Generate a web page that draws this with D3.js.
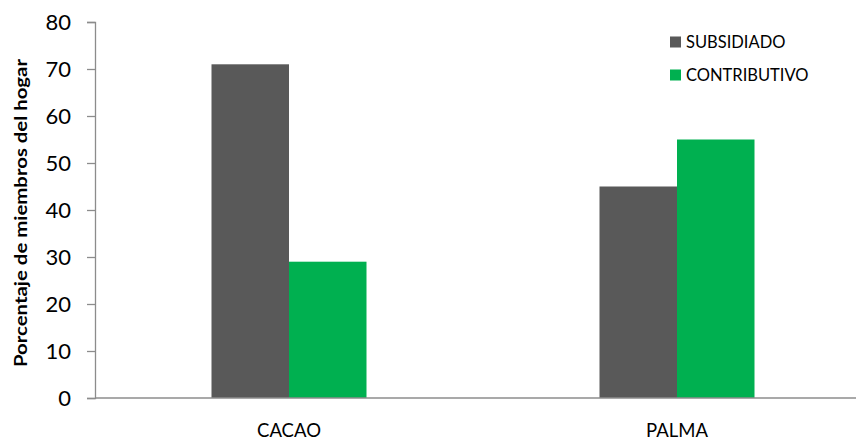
<!DOCTYPE html>
<html><head><meta charset="utf-8">
<script src="https://cdn.jsdelivr.net/npm/d3@7/dist/d3.min.js"></script>
<style>body{margin:0;background:#fff}</style>
</head><body>
<svg id="c" width="859" height="440"></svg>
<script>
const categories = ["CACAO", "PALMA"];
const seriesNames = ["SUBSIDIADO", "CONTRIBUTIVO"];
const subsidiado = [71, 45];
const contributivo = [29, 55];
const yTicks = [0, 10, 20, 30, 40, 50, 60, 70, 80];
const colors = ["#595959", "#00b050"];

const svg = d3.select("#c");
const font = "Lato, 'Open Sans', sans-serif";
const x0 = 95, yTop = 22, yBot = 398;
const x = d3.scaleBand().domain(categories).range([x0, 871]);
const xs = d3.scaleBand().domain(seriesNames).range([0, 155]);
const y = d3.scaleLinear().domain([0, 80]).range([yBot, yTop]);
const values = [subsidiado, contributivo];

// bars
seriesNames.forEach((s, si) => {
  svg.append("g").selectAll("rect").data(categories).join("rect")
    .attr("x", c => x(c) + x.bandwidth() / 2 - 77.5 + xs(s))
    .attr("y", (c, i) => y(values[si][i]))
    .attr("width", xs.bandwidth())
    .attr("height", (c, i) => yBot - y(values[si][i]))
    .attr("fill", colors[si]);
});

// y axis
const ya = svg.append("g").attr("transform", `translate(${x0},0)`)
  .call(d3.axisLeft(y).tickValues(yTicks).tickSize(8).tickPadding(16));
ya.select(".domain").attr("stroke", "#8c8c8c").attr("stroke-width", 1.3);
ya.selectAll(".tick line").attr("stroke", "#8c8c8c").attr("stroke-width", 1.3);
ya.selectAll(".tick text").attr("font-family", font).attr("font-size", 22).attr("fill", "#000");

// x axis baseline
svg.append("line").attr("x1", x0).attr("x2", 856).attr("y1", yBot).attr("y2", yBot)
  .attr("stroke", "#8c8c8c").attr("stroke-width", 1.5);
svg.append("g").selectAll("text").data(categories).join("text")
  .attr("x", c => x(c) + x.bandwidth() / 2)
  .attr("y", 437)
  .attr("text-anchor", "middle")
  .attr("font-family", font).attr("font-size", 18.5)
  .text(c => c);

// y title
svg.append("text")
  .attr("transform", `translate(27,${(yTop + yBot) / 2 + 3}) rotate(-90)`)
  .attr("text-anchor", "middle")
  .attr("font-family", font).attr("font-size", 16.5).attr("font-weight", "bold")
  .attr("textLength", 308).attr("lengthAdjust", "spacingAndGlyphs")
  .text("Porcentaje de miembros del hogar");

// legend
seriesNames.forEach((s, i) => {
  const ly = 42 + i * 33;
  svg.append("rect").attr("x", 670).attr("y", ly - 5.5).attr("width", 11).attr("height", 11).attr("fill", colors[i]);
  svg.append("text").attr("x", 686).attr("y", ly).attr("dy", "0.35em")
    .attr("font-family", font).attr("font-size", 16.5).text(s);
});
</script>
</body></html>
